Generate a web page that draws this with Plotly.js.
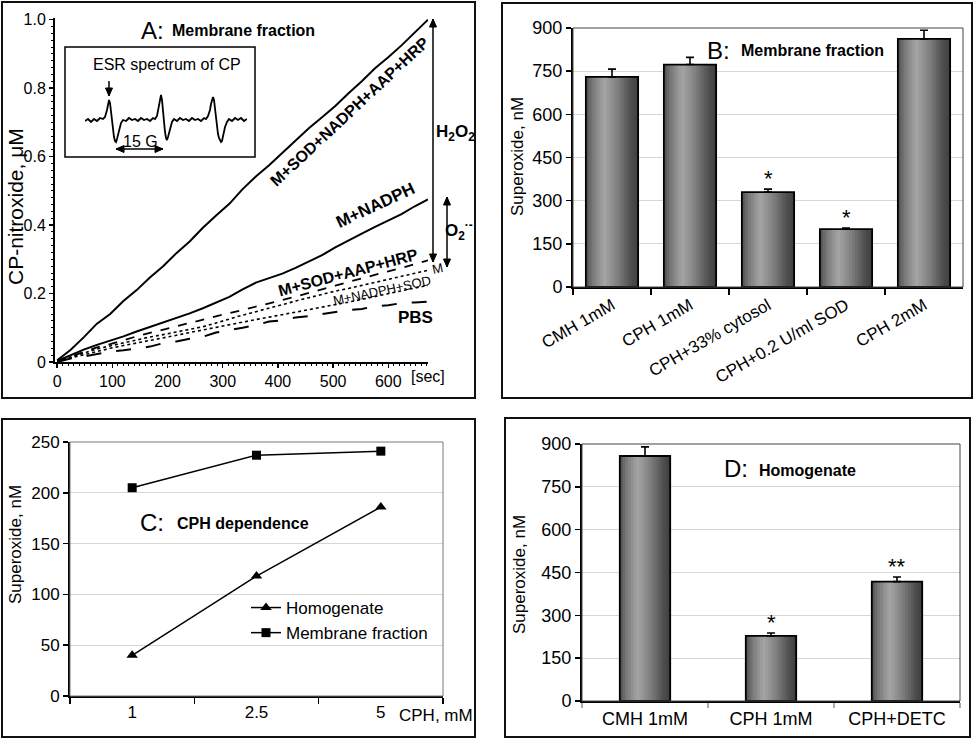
<!DOCTYPE html>
<html><head><meta charset="utf-8">
<script src="https://cdn.plot.ly/plotly-3.0.1.min.js"></script>
<style>html,body{margin:0;padding:0;background:#fff}#chart{width:975px;height:738px}</style>
</head><body><div id="chart"></div>
<script>
// ---------- DATA ----------
// Panel A: CP-nitroxide accumulation (µM) vs time (sec)
const timeSec = [0,24,48,72,96,120,144,168,192,216,240,264,288,312,336,360,384,408,432,456,480,504,528,552,576,600,624,648,672];
const cpSodNadphAapHrp = [0.005,0.035,0.072,0.112,0.14,0.178,0.21,0.247,0.28,0.318,0.352,0.392,0.428,0.462,0.505,0.542,0.575,0.612,0.646,0.683,0.715,0.748,0.785,0.82,0.858,0.89,0.925,0.962,1.0];
const cpNadph = [0.003,0.02,0.036,0.05,0.062,0.075,0.089,0.102,0.115,0.128,0.142,0.157,0.174,0.19,0.212,0.232,0.245,0.258,0.275,0.293,0.312,0.335,0.356,0.375,0.395,0.413,0.432,0.455,0.475];
const cpSodAapHrp = [0.002,0.015,0.03,0.043,0.052,0.064,0.075,0.085,0.095,0.105,0.114,0.124,0.133,0.143,0.152,0.161,0.171,0.181,0.191,0.201,0.212,0.223,0.234,0.245,0.255,0.265,0.275,0.286,0.297];
const cpM = [0.002,0.014,0.027,0.038,0.047,0.056,0.065,0.073,0.08,0.088,0.095,0.103,0.114,0.126,0.137,0.147,0.158,0.168,0.178,0.188,0.198,0.207,0.215,0.224,0.233,0.242,0.25,0.259,0.268];
const cpNadphSod = [0.002,0.012,0.022,0.032,0.04,0.048,0.055,0.062,0.07,0.078,0.086,0.094,0.102,0.11,0.118,0.124,0.131,0.138,0.146,0.153,0.16,0.168,0.175,0.183,0.192,0.2,0.208,0.216,0.224];
const cpPbs = [0.0,0.01,0.016,0.024,0.03,0.034,0.04,0.045,0.055,0.06,0.068,0.074,0.086,0.092,0.1,0.108,0.118,0.122,0.13,0.134,0.14,0.145,0.152,0.155,0.163,0.166,0.172,0.174,0.176];
const aYTickVals = [0,0.2,0.4,0.6,0.8,1.0];
const aYTickText = ["0","0.2","0.4","0.6","0.8","1.0"];
// Inset: ESR spectrum of CP (arbitrary units)
const esrField = [0,3,6,9,12,15,18,20,22,23,24,25,26,27,28,29,30,31,32,34,36,38,41,44,47,50,53,56,59,62,65,68,70,72,73,74,75,76,77,78,79,80,81,82,83,85,87,89,92,95,98,101,104,107,110,113,116,119,121,123,125,126,127,128,129,130,131,132,133,134,135,136,137,138,140,142,144,147,150,153,156,159,162];
const esrSignal = [-1,1,-2,1,-1,2,1,3,10,16,20,17,8,-2,-10,-17,-21,-22,-19,-10,-3,0,-1,2,0,1,-1,2,0,1,-1,2,1,4,9,16,22,25,20,8,-4,-12,-18,-20,-17,-8,-2,1,-1,2,0,1,-1,2,0,1,-1,2,1,4,10,16,21,23,20,10,0,-8,-14,-18,-21,-22,-21,-16,-7,-2,1,-1,2,0,2,-1,1];

// Panel B: membrane fraction
const bCategories = ["CMH 1mM","CPH 1mM","CPH+33% cytosol","CPH+0.2 U/ml SOD","CPH 2mM"];
const bValues = [730, 773, 330, 201, 862];
const bErrors = [27, 25, 10, 4, 30];
const bStars = ["","","*","*",""];

// Panel C: CPH dependence
const cConc = ["1","2.5","5"];
const cHomogenate = [40, 118, 186];
const cMembrane = [205, 237, 241];

// Panel D: homogenate
const dCategories = ["CMH 1mM","CPH 1mM","CPH+DETC"];
const dValues = [858, 228, 418];
const dErrors = [32, 10, 16];
const dStars = ["","*","**"];

// ---------- HELPERS ----------
const W=975,H=738;
const px = x => x/W, py = y => 1 - y/H;
const FONT = "Liberation Sans, Arial, sans-serif";

function shade(f){
  const st=[[0,78],[0.12,118],[0.35,165],[0.6,128],[0.85,80],[1,62]];
  for(let i=0;i<st.length-1;i++){
    if(f>=st[i][0]&&f<=st[i+1][0]){
      const t=(f-st[i][0])/(st[i+1][0]-st[i][0]);
      const g=Math.round(st[i][1]+t*(st[i+1][1]-st[i][1]));
      return `rgb(${g},${g},${g})`;
    }
  }
  return 'rgb(60,60,60)';
}
function gradientBars(xa, ya, cats, vals, errs, barW){
  const N=18, out=[];
  for(let i=0;i<N;i++){
    const w = barW/N*(i===N-1?1:1.25);
    out.push({type:'bar', x:cats, y:vals, xaxis:xa, yaxis:ya,
      width: cats.map(()=>w), offset: cats.map(()=>-barW/2 + i*barW/N),
      marker:{color: shade((i+0.5)/N), line:{width:0}}, showlegend:false, hoverinfo:'skip'});
  }
  out.push({type:'bar', x:cats, y:vals, xaxis:xa, yaxis:ya,
    width: cats.map(()=>barW), offset: cats.map(()=>-barW/2),
    marker:{color:'rgba(0,0,0,0)', line:{color:'#000', width:1.8}},
    error_y:{type:'data', symmetric:false, array:errs, arrayminus:errs.map(()=>0), color:'#000', thickness:1.6, width:4},
    showlegend:false, hoverinfo:'skip'});
  return out;
}

// ---------- TRACES ----------
const traces = [];
const lineA = (y, dash, w) => ({type:'scatter', mode:'lines', x:timeSec, y:y, xaxis:'x', yaxis:'y',
  line:{color:'#000', width:w, dash:dash}, showlegend:false, hoverinfo:'skip'});
traces.push(lineA(cpPbs,'longdash',2));
traces.push(lineA(cpNadphSod,'dot',1.6));
traces.push(lineA(cpM,'dot',1.6));
traces.push(lineA(cpSodAapHrp,'dash',1.8));
traces.push(lineA(cpNadph,'solid',2));
traces.push(lineA(cpSodNadphAapHrp,'solid',2));
traces.push({type:'scatter', mode:'lines', x:esrField, y:esrSignal, xaxis:'x5', yaxis:'y5',
  line:{color:'#000', width:1.8}, showlegend:false, hoverinfo:'skip'});

traces.push(...gradientBars('x2','y2', bCategories, bValues, bErrors, 0.67));

traces.push({type:'scatter', mode:'lines+markers', name:'Homogenate', x:cConc, y:cHomogenate, xaxis:'x3', yaxis:'y3',
  line:{color:'#000', width:1.5}, marker:{symbol:'triangle-up', size:10, color:'#000'}});
traces.push({type:'scatter', mode:'lines+markers', name:'Membrane fraction', x:cConc, y:cMembrane, xaxis:'x3', yaxis:'y3',
  line:{color:'#000', width:1.5}, marker:{symbol:'square', size:9, color:'#000'}});

traces.push(...gradientBars('x4','y4', dCategories, dValues, dErrors, 0.4));

// ---------- LAYOUT ----------
const tf = s => ({family:FONT, size:s, color:'#000'});
const annotations = [];
const txt = (x,y,text,size,opts={}) => annotations.push(Object.assign({xref:'paper', yref:'paper', x:px(x), y:py(y), xanchor:'center', yanchor:'middle', text:text, showarrow:false, font:tf(size)}, opts));

// Panel A texts
txt(152,30,'A:',24);
txt(170,31,'<b>Membrane fraction</b>',16,{xanchor:'left'});
txt(350,112,'<b>M+SOD+NADPH+AAP+HRP</b>',16,{textangle:-43});
txt(375,205,'<b>M+NADPH</b>',17,{textangle:-25});
txt(348,272,'<b>M+SOD+AAP+HRP</b>',16,{textangle:-15});
txt(382,290,'M+NADPH+SOD',13,{textangle:-12});
txt(437,268,'M',13,{textangle:-12});
txt(415,317,'<b>PBS</b>',17);
txt(428,377,'[sec]',16);
txt(455,133,'<b>H<sub>2</sub>O<sub>2</sub></b>',17);
txt(459,230,'<b>O<sub>2</sub><sup>·-</sup></b>',17);
txt(15,207,'CP-nitroxide, μM',21,{textangle:-90});
txt(167,65,'ESR spectrum of CP',16);
txt(140,141,'15 G',16);

// Panel B texts
txt(718,50,'B:',24);
txt(739,51,'<b>Membrane fraction</b>',16,{xanchor:'left'});
txt(517,157,'Superoxide, nM',17,{textangle:-90});
bStars.forEach((s,i)=>{ if(s) annotations.push({xref:'x2', yref:'y2', x:bCategories[i], y:bValues[i]+bErrors[i], yanchor:'bottom', yshift:-4, text:s, showarrow:false, font:tf(22)}); });

// Panel C texts
txt(152,522,'C:',24);
txt(175,523,'<b>CPH dependence</b>',16,{xanchor:'left'});
txt(436,715,'CPH, mM',17);
txt(15,545,'Superoxide, nM',17,{textangle:-90});

// Panel D texts
txt(736,468,'D:',24);
txt(757,470,'<b>Homogenate</b>',16,{xanchor:'left'});
txt(519,575,'Superoxide, nM',17,{textangle:-90});
dStars.forEach((s,i)=>{ if(s) annotations.push({xref:'x4', yref:'y4', x:dCategories[i], y:dValues[i]+dErrors[i], yanchor:'bottom', yshift:-4, text:s, showarrow:false, font:tf(22)}); });

// shapes: panel frames, plot boxes, inset box, arrows
const frame = (x0,y0,x1,y1,w,c) => ({type:'rect', xref:'paper', yref:'paper', x0:px(x0), y0:py(y0), x1:px(x1), y1:py(y1), line:{color:c||'#111', width:w||2}, fillcolor:'rgba(0,0,0,0)'});
const shapes = [
  frame(2,2,475,398), frame(502,3,972,398), frame(2,419,475,737), frame(505,418,970,737),
  frame(65,47,255,157,1.5,'#000'),
  {type:'rect', xref:'x2 domain', yref:'y2 domain', x0:0,x1:1,y0:0,y1:1, line:{color:'#444', width:1}},
  {type:'rect', xref:'x3 domain', yref:'y3 domain', x0:0,x1:1,y0:0,y1:1, line:{color:'#777', width:1}},
  {type:'rect', xref:'x4 domain', yref:'y4 domain', x0:0,x1:1,y0:0,y1:1, line:{color:'#444', width:1}}
];
function head(xt,yt,xf,yf){ // triangle with tip at (xt,yt) pointing away from (xf,yf), pixel coords
  const dx=xt-xf, dy=yt-yf, L=Math.hypot(dx,dy), ux=dx/L, uy=dy/L, len=8, hw=3.5;
  const bx=xt-ux*len, by=yt-uy*len;
  const p=[[xt,yt],[bx-uy*hw,by+ux*hw],[bx+uy*hw,by-ux*hw]];
  return {type:'path', xref:'paper', yref:'paper', path:'M'+p.map(q=>px(q[0])+','+py(q[1])).join(' L')+' Z', fillcolor:'#000', line:{color:'#000', width:1}};
}
function arrowShape(x0,y0,x1,y1,both){
  shapes.push({type:'line', xref:'paper', yref:'paper', x0:px(x0), y0:py(y0), x1:px(x1), y1:py(y1), line:{color:'#000', width:1.5}});
  shapes.push(head(x1,y1,x0,y0));
  if(both) shapes.push(head(x0,y0,x1,y1));
}
arrowShape(433,262,433,19,true);
arrowShape(447,267,447,197,true);
arrowShape(109,81,109,96,false);
arrowShape(116,149,163,149,true);

const baseAxis = (extra) => Object.assign({showline:true, linecolor:'#000', linewidth:2, zeroline:false, showgrid:false,
  ticks:'outside', tickcolor:'#000', tickwidth:1.5, ticklen:5, tickfont:tf(17), fixedrange:true}, extra);

const layout = {
  width:W, height:H, margin:{l:0,r:0,t:0,b:0}, paper_bgcolor:'#fff', plot_bgcolor:'#fff',
  font:{family:FONT, color:'#000'}, barmode:'overlay', showlegend:true, hovermode:false,
  legend:{x:px(246), y:py(590), xanchor:'left', yanchor:'top', font:tf(17), bgcolor:'rgba(0,0,0,0)', itemwidth:30, tracegroupgap:0},
  xaxis: baseAxis({domain:[px(55),px(428)], range:[-4,672], anchor:'y', dtick:100, tick0:0, ticklen:4, tickfont:tf(16),
    minor:{ticks:'outside', dtick:10, ticklen:2, tickcolor:'#000', tickwidth:1}}),
  yaxis: baseAxis({domain:[py(362),py(18)], range:[0,1.005], anchor:'x', tickvals:aYTickVals, ticktext:aYTickText, ticklen:4, tickfont:tf(16),
    minor:{ticks:'outside', dtick:0.02, ticklen:2, tickcolor:'#000', tickwidth:1}}),
  xaxis2: baseAxis({domain:[px(573),px(963)], type:'category', range:[-0.5,4.5], anchor:'y2', tickson:'boundaries', ticklen:6, tickangle:-30}),
  yaxis2: baseAxis({domain:[py(287),py(28)], range:[0,900], anchor:'x2', dtick:150, showgrid:true, gridcolor:'#d6d6d6', gridwidth:1, tickfont:tf(18)}),
  xaxis3: baseAxis({domain:[px(70),px(443)], type:'category', range:[-0.5,2.5], anchor:'y3', tickson:'boundaries', ticklen:6}),
  yaxis3: baseAxis({domain:[py(696),py(442)], range:[0,250], anchor:'x3', dtick:50, showgrid:true, gridcolor:'#d6d6d6', gridwidth:1}),
  xaxis4: baseAxis({domain:[px(582),px(960)], type:'category', range:[-0.5,2.5], anchor:'y4', tickson:'boundaries', ticklen:5, tickcolor:'#aaa', tickfont:tf(18)}),
  yaxis4: baseAxis({domain:[py(701),py(444)], range:[0,900], anchor:'x4', dtick:150, showgrid:true, gridcolor:'#d6d6d6', gridwidth:1, tickfont:tf(18)}),
  xaxis5: {domain:[px(85),px(247)], range:[0,162], anchor:'y5', visible:false, fixedrange:true},
  yaxis5: {domain:[py(148),py(92)], range:[-28,28], anchor:'x5', visible:false, fixedrange:true},
  annotations: annotations, shapes: shapes
};

Plotly.newPlot('chart', traces, layout, {staticPlot:true, displayModeBar:false});
</script>
</body></html>
